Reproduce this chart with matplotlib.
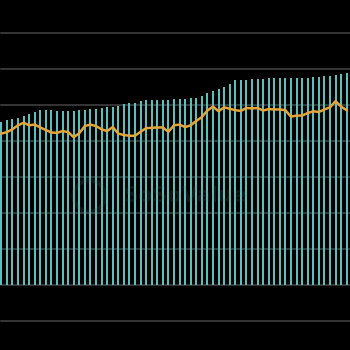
import matplotlib
matplotlib.use("Agg")
import matplotlib.pyplot as plt
import numpy as np

# Bar series (holdings, left axis units)
bar_values = [45.4, 45.8, 46.1, 46.4, 47.1, 47.6, 48.1, 48.7, 48.7, 48.7,
              48.5, 48.5, 48.5, 48.5, 48.7, 48.7, 49.0, 49.0, 49.3, 49.4,
              49.5, 49.7, 50.2, 50.5, 50.6, 51.1, 51.3, 51.4, 51.5, 51.5,
              51.5, 51.7, 51.7, 51.8, 52.0, 52.1, 52.5, 53.3, 53.9, 54.4,
              55.1, 55.8, 56.9, 57.1, 57.1, 57.2, 57.2, 57.2, 57.4, 57.4,
              57.5, 57.6, 57.6, 57.6, 57.6, 57.6, 57.8, 57.9, 58.1, 58.1,
              58.3, 58.6, 58.8]

# Line series (price, right axis units)
line_values = [42.1, 42.5, 43.3, 44.4, 45.1, 44.4, 44.6, 43.8, 43.1, 42.4,
               42.3, 42.8, 42.5, 41.1, 42.2, 44.2, 44.6, 44.2, 43.3, 42.8,
               43.9, 42.1, 41.7, 41.5, 41.5, 42.6, 43.6, 43.7, 43.8, 43.8,
               42.6, 44.4, 44.6, 43.9, 44.4, 45.6, 46.7, 48.5, 49.6, 48.3,
               49.4, 49.0, 48.6, 48.4, 49.2, 49.1, 49.2, 48.5, 48.9, 48.8,
               48.8, 48.6, 46.8, 47.1, 47.1, 47.8, 48.3, 48.1, 48.8, 49.4,
               51.1, 49.6, 48.6]

BG = "#000000"
GRID = "#3a3a3a"
BAR = "#5cbfbb"
LINE = "#e6a536"

fig = plt.figure(figsize=(3.5, 3.5), dpi=100, facecolor=BG)
ax = fig.add_axes([0, 0, 1, 1])
ax.set_facecolor(BG)

x = np.arange(len(bar_values))
ax.bar(x, bar_values, width=0.36, color=BAR, zorder=2, linewidth=0)
ax.set_xlim(-0.23, 62.6)
ax.set_ylim(-18, 79.2)
ax.set_yticks(np.arange(-10, 80, 10))
ax.grid(axis="y", color=GRID, linewidth=1.3, zorder=1)
ax.set_axisbelow(True)
for s in ax.spines.values():
    s.set_visible(False)
ax.tick_params(left=False, bottom=False, labelleft=False, labelbottom=False)

ax2 = ax.twinx()
ax2.plot(x, line_values, color=LINE, linewidth=1.8, zorder=3)
ax2.set_ylim(-18, 79.2)
ax2.set_xlim(-0.23, 62.6)
for s in ax2.spines.values():
    s.set_visible(False)
ax2.tick_params(right=False, labelright=False)

# faint watermark
ax.text(0.53, 0.44, "SoSoValue", transform=ax.transAxes, ha="center", va="center",
        fontsize=15, fontweight="bold", color="#777777", alpha=0.18, zorder=4)
circle = plt.Circle((0.255, 0.44), 0.045, transform=ax.transAxes, fill=False,
                    edgecolor="#777777", alpha=0.18, linewidth=3, zorder=4)
ax.add_patch(circle)

fig.savefig("out.png", dpi=100, facecolor=BG)
